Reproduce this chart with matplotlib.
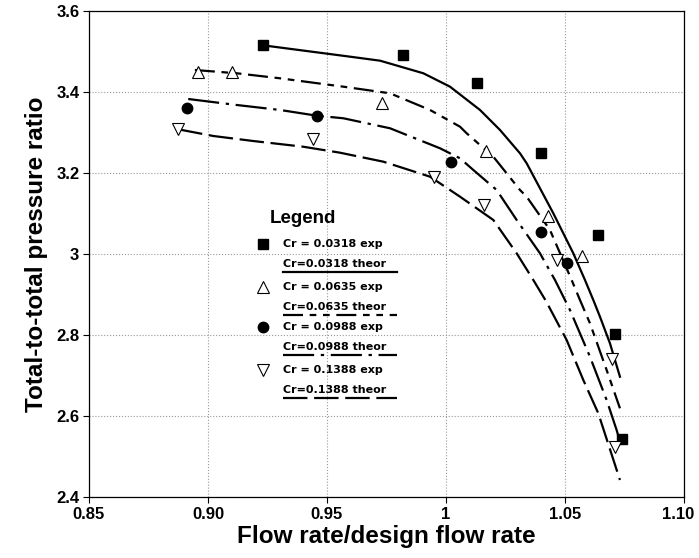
import matplotlib
matplotlib.use("Agg")
import matplotlib.pyplot as plt
from matplotlib.lines import Line2D
from matplotlib.transforms import ScaledTranslation

plt.rcParams['font.family'] = ['Liberation Sans', 'DejaVu Sans']

# measured points, one pair of lists per clearance ratio
exp_0318_x = [0.923, 0.982, 1.013, 1.040, 1.064, 1.071, 1.074]
exp_0318_y = [3.516, 3.491, 3.423, 3.250, 3.047, 2.802, 2.543]
exp_0635_x = [0.896, 0.910, 0.973, 1.017, 1.043, 1.057]
exp_0635_y = [3.450, 3.450, 3.372, 3.255, 3.095, 2.995]
exp_0988_x = [0.891, 0.946, 1.002, 1.040, 1.051]
exp_0988_y = [3.361, 3.341, 3.228, 3.055, 2.979]
exp_1388_x = [0.8875, 0.944, 0.995, 1.016, 1.0465, 1.0696, 1.071]
exp_1388_y = [3.308, 3.283, 3.191, 3.121, 2.985, 2.740, 2.524]

# predicted curves
th_0318_x = [0.9253, 0.9597, 0.9723, 0.9905, 1.0017, 1.0143, 1.0185, 1.0227, 1.0311,
             1.0339, 1.0451, 1.0535, 1.0584, 1.0619, 1.0647, 1.0689, 1.0731]
th_0318_y = [3.5136, 3.4872, 3.4773, 3.4462, 3.4131, 3.3556, 3.3309, 3.3062, 3.2486,
             3.2240, 3.1005, 3.0017, 2.9358, 2.8864, 2.8452, 2.7795, 2.6970]
th_0635_x = [0.8945, 0.9121, 0.9303, 0.9569, 0.9765, 0.9933, 1.0059, 1.0087, 1.0199,
             1.0311, 1.0339, 1.0437, 1.0528, 1.0563, 1.0605, 1.0675, 1.0731]
th_0635_y = [3.4543, 3.4462, 3.4338, 3.4131, 3.3968, 3.3556, 3.3143, 3.2980, 3.2402,
             3.1580, 3.1415, 3.0593, 2.9358, 2.8864, 2.8289, 2.7136, 2.6190]
th_0988_x = [0.8917, 0.9121, 0.9303, 0.9457, 0.9569, 0.9765, 0.9975, 1.0059, 1.0115,
             1.0213, 1.0297, 1.0395, 1.0458, 1.0521, 1.0605, 1.0675, 1.0717, 1.0735]
th_0988_y = [3.3827, 3.3679, 3.3556, 3.3415, 3.3351, 3.3104, 3.2610, 3.2363, 3.2074,
             3.1580, 3.0840, 3.0017, 2.9358, 2.8617, 2.7464, 2.6395, 2.5654, 2.5284]
th_1388_x = [0.8875, 0.9022, 0.9190, 0.9400, 0.9555, 0.9737, 0.9933, 1.0017, 1.0059,
             1.0199, 1.0297, 1.0367, 1.0420, 1.0507, 1.0577, 1.0640, 1.0731]
th_1388_y = [3.3079, 3.2914, 3.2790, 3.2649, 3.2501, 3.2279, 3.1909, 3.1580, 3.1415,
             3.0840, 3.0017, 2.9358, 2.8840, 2.7877, 2.6889, 2.6067, 2.4420]

x_ticks = [0.85, 0.90, 0.95, 1.00, 1.05, 1.10]
x_tick_labels = ['0.85', '0.90', '0.95', '1', '1.05', '1.10']
y_ticks = [2.4, 2.6, 2.8, 3.0, 3.2, 3.4, 3.6]
y_tick_labels = ['2.4', '2.6', '2.8', '3', '3.2', '3.4', '3.6']

exp_labels = ['Cr = 0.0318 exp', 'Cr = 0.0635 exp', 'Cr = 0.0988 exp', 'Cr = 0.1388 exp']
theor_labels = ['Cr=0.0318 theor', 'Cr=0.0635 theor', 'Cr=0.0988 theor', 'Cr=0.1388 theor']

markers = [dict(marker='s', mfc='black', mec='black', ms=7.5),
           dict(marker='^', mfc='white', mec='black', ms=9, mew=0.8),
           dict(marker='o', mfc='black', mec='black', ms=7.5),
           dict(marker='v', mfc='white', mec='black', ms=9, mew=0.8)]
dash_styles = ['-', (0, (9, 3, 3, 3, 3, 3)), (0, (14, 3, 1.5, 3)), (0, (11, 3))]

fig = plt.figure(figsize=(6.99, 5.58), dpi=100)
ax = fig.add_axes([0.1273, 0.1093, 0.8512, 0.8710])

exp_sets = [(exp_0318_x, exp_0318_y), (exp_0635_x, exp_0635_y),
            (exp_0988_x, exp_0988_y), (exp_1388_x, exp_1388_y)]
th_sets = [(th_0318_x, th_0318_y), (th_0635_x, th_0635_y),
           (th_0988_x, th_0988_y), (th_1388_x, th_1388_y)]

for (tx, ty), ls in zip(th_sets, dash_styles):
    ax.plot(tx, ty, color='black', lw=1.6, linestyle=ls, zorder=2)
for (ex, ey), mk in zip(exp_sets, markers):
    ax.plot(ex, ey, linestyle='none', zorder=3, **mk)

ax.set_xlim(0.85, 1.10)
ax.set_ylim(2.4, 3.6)
ax.set_xticks(x_ticks)
ax.set_xticklabels(x_tick_labels)
ax.set_yticks(y_ticks)
ax.set_yticklabels(y_tick_labels)
ax.tick_params(direction='out', length=4, width=0.8, labelsize=12, pad=3)
for lbl in ax.get_xticklabels() + ax.get_yticklabels():
    lbl.set_fontweight('bold')
# pull the last x label in so it stays inside the figure
last = ax.get_xticklabels()[-1]
last.set_transform(last.get_transform() + ScaledTranslation(-4 / 72, 0, fig.dpi_scale_trans))
ax.grid(True, linestyle=':', color='#999999', lw=0.8)
for sp in ax.spines.values():
    sp.set_linewidth(0.9)

ax.set_xlabel('Flow rate/design flow rate', fontsize=17.5, fontweight='bold', labelpad=2)
ax.set_ylabel('Total-to-total pressure ratio', fontsize=17.5, fontweight='bold', labelpad=6)

# hand-built legend block: marker rows and underlined theory rows
tr = ax.transAxes
ax.text(0.360, 0.574, 'Legend', transform=tr, fontsize=13.5, fontweight='bold',
        ha='center', va='center', zorder=5)
row_y = [0.521, 0.479, 0.432, 0.391, 0.350, 0.309, 0.261, 0.220]
for i in range(4):
    ye = row_y[2 * i]
    yt = row_y[2 * i + 1]
    ax.add_line(Line2D([0.292], [ye], transform=tr, linestyle='none', zorder=5, **markers[i]))
    ax.text(0.326, ye, exp_labels[i], transform=tr, fontsize=8, fontweight='bold',
            family='DejaVu Sans', ha='left', va='center', zorder=5)
    ax.text(0.326, yt, theor_labels[i], transform=tr, fontsize=8, fontweight='bold',
            family='DejaVu Sans', ha='left', va='center', zorder=5)
    ax.add_line(Line2D([0.326, 0.518], [yt - 0.016, yt - 0.016], transform=tr,
                       color='black', lw=1.6, linestyle=dash_styles[i], zorder=5))

fig.savefig('out.png', dpi=100)
